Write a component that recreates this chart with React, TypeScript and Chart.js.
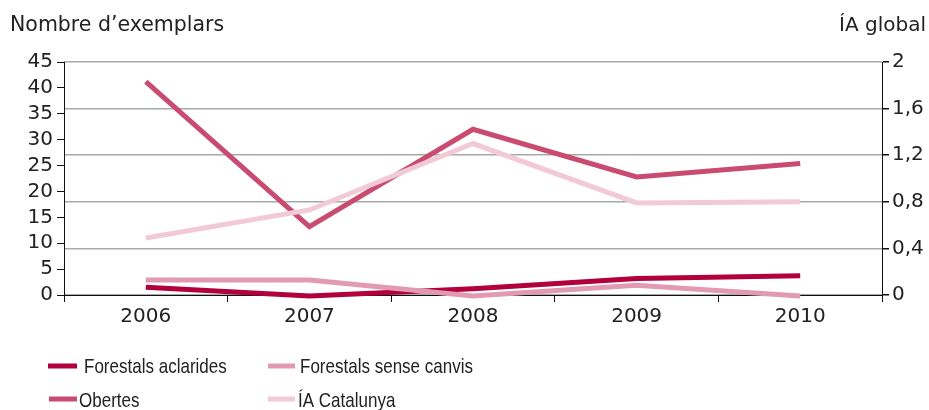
import React, { useEffect, useRef } from "react";
import { Chart, registerables } from "chart.js";

Chart.register(...registerables);

const years = ["2006", "2007", "2008", "2009", "2010"];
const forestalsAclarides = [1.5, -0.2, 1.2, 3.2, 3.7];
const forestalsSenseCanvis = [2.9, 2.9, -0.2, 1.9, -0.2];
const obertes = [41.2, 13.2, 32.0, 22.8, 25.4];
const iaCatalunya = [0.49, 0.73, 1.3, 0.79, 0.8];

const leftTitle = "Nombre d’exemplars";
const rightTitle = "ÍA global";

const colAclarides = "#b1003b";
const colSense = "#e29ab0";
const colObertes = "#c94b71";
const colCatalunya = "#f2c9d6";

const TICK_FONT = "'DejaVu Sans', 'Liberation Sans', sans-serif";
const LEG_FONT = "'Liberation Sans', Arial, sans-serif";

const legendItems = [
  { label: "Forestals aclarides", color: colAclarides, x1: 48, x2: 77, tx: 84, y: 366, by: 373 },
  { label: "Forestals sense canvis", color: colSense, x1: 268, x2: 295, tx: 300, y: 366, by: 373 },
  { label: "Obertes", color: colObertes, x1: 49, x2: 77, tx: 79, y: 399, by: 407 },
  { label: "ÍA Catalunya", color: colCatalunya, x1: 268, x2: 295, tx: 298, y: 399, by: 407 },
];

const decor = {
  id: "decor",
  afterDraw(chart: any) {
    const ctx = chart.ctx;
    ctx.save();
    ctx.fillStyle = "#222";
    ctx.font = `20.5px ${TICK_FONT}`;
    ctx.textBaseline = "alphabetic";
    ctx.textAlign = "left";
    ctx.fillText(leftTitle, 10, 31);
    ctx.font = `20px ${TICK_FONT}`;
    ctx.textAlign = "right";
    ctx.fillText(rightTitle, 926, 31);
    ctx.textAlign = "left";
    for (const it of legendItems) {
      ctx.strokeStyle = it.color;
      ctx.lineWidth = 5;
      ctx.lineCap = "butt";
      ctx.beginPath();
      ctx.moveTo(it.x1, it.y);
      ctx.lineTo(it.x2, it.y);
      ctx.stroke();
      ctx.save();
      ctx.fillStyle = "#222";
      ctx.font = `21px ${LEG_FONT}`;
      ctx.textBaseline = "alphabetic";
      ctx.translate(it.tx, it.by);
      ctx.scale(0.81, 1);
      ctx.fillText(it.label, 0, 0);
      ctx.restore();
    }
    ctx.restore();
  },
};

function fmtComma(v: number) {
  const r = Math.round(v * 10) / 10;
  return String(r).replace(".", ",");
}

export default function App() {
  const ref = useRef<HTMLCanvasElement | null>(null);
  useEffect(() => {
    if (!ref.current) return;
    const ds = (label: string, data: number[], color: string, axis: string) => ({
      label,
      data,
      borderColor: color,
      backgroundColor: color,
      borderWidth: 5,
      pointRadius: 0,
      tension: 0,
      yAxisID: axis,
      clip: false as any,
      borderCapStyle: "butt" as const,
      borderJoinStyle: "miter" as const,
    });
    const chart = new Chart(ref.current, {
      type: "line",
      data: {
        labels: years,
        datasets: [
          ds("ÍA Catalunya", iaCatalunya, colCatalunya, "y2"),
          ds("Forestals sense canvis", forestalsSenseCanvis, colSense, "y"),
          ds("Forestals aclarides", forestalsAclarides, colAclarides, "y"),
          ds("Obertes", obertes, colObertes, "y"),
        ],
      },
      options: {
        animation: false,
        responsive: false,
        maintainAspectRatio: false,
        layout: { padding: { top: 62, left: 0, right: 0, bottom: 0 } },
        plugins: { legend: { display: false }, tooltip: { enabled: false } },
        scales: {
          x: {
            type: "category",
            offset: true,
            grid: {
              offset: true,
              drawOnChartArea: false,
              tickLength: 7,
              tickColor: "#111",
            },
            border: { color: "#111", width: 1 },
            ticks: {
              color: "#222",
              font: { family: TICK_FONT, size: 20 },
              padding: 3,
              maxRotation: 0,
              autoSkip: false,
            },
            afterFit: (s: any) => {
              s.height = 115;
            },
          },
          y: {
            position: "left",
            min: 0,
            max: 45,
            ticks: {
              stepSize: 5,
              autoSkip: false,
              color: "#222",
              font: { family: TICK_FONT, size: 20 },
              padding: 4,
            },
            grid: { drawOnChartArea: false, tickLength: 7, tickColor: "#111" },
            border: { color: "#111", width: 1 },
            afterFit: (s: any) => {
              s.width = 64;
            },
          },
          y2: {
            position: "right",
            min: 0,
            max: 2,
            ticks: {
              stepSize: 0.4,
              autoSkip: false,
              color: "#222",
              font: { family: TICK_FONT, size: 20 },
              padding: 3,
              callback: (v: any) => fmtComma(Number(v)),
            },
            grid: {
              drawOnChartArea: true,
              color: "#a8a8a8",
              lineWidth: 1.5,
              tickLength: 7,
              tickColor: "#111",
            },
            border: { color: "#111", width: 1 },
            afterFit: (s: any) => {
              s.width = 47;
            },
          },
        },
      },
      plugins: [decor],
    });
    return () => chart.destroy();
  }, []);
  return (
    <div style={{ position: "fixed", left: 0, top: 0, width: 929, height: 410, background: "#fff" }}>
      <canvas ref={ref} width={929} height={410} style={{ width: 929, height: 410, display: "block" }} />
    </div>
  );
}
